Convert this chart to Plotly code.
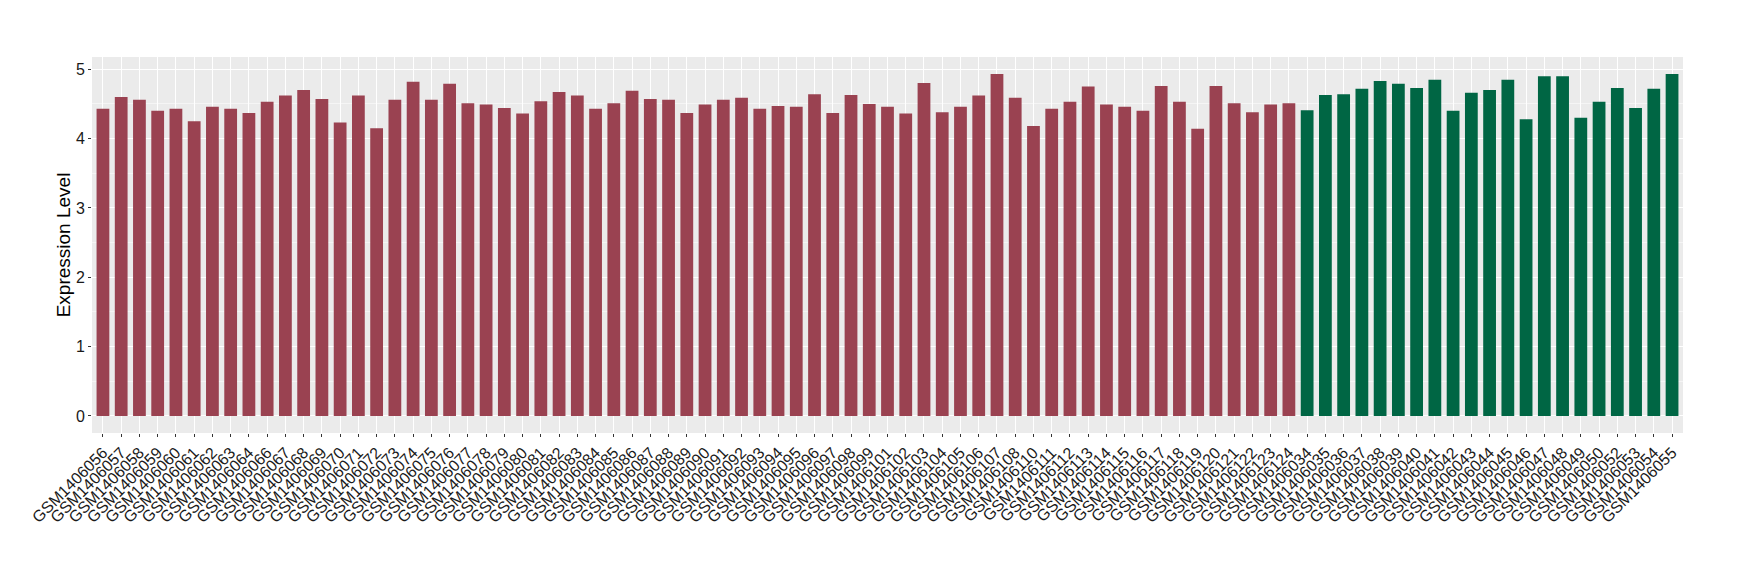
import plotly.graph_objects as go

# amostras do grupo 1 (vermelho) e grupo 2 (verde)
amostras_g1 = [
    "GSM1406056", "GSM1406057", "GSM1406058", "GSM1406059", "GSM1406060", "GSM1406061",
    "GSM1406062", "GSM1406063", "GSM1406064", "GSM1406066", "GSM1406067", "GSM1406068",
    "GSM1406069", "GSM1406070", "GSM1406071", "GSM1406072", "GSM1406073", "GSM1406074",
    "GSM1406075", "GSM1406076", "GSM1406077", "GSM1406078", "GSM1406079", "GSM1406080",
    "GSM1406081", "GSM1406082", "GSM1406083", "GSM1406084", "GSM1406085", "GSM1406086",
    "GSM1406087", "GSM1406088", "GSM1406089", "GSM1406090", "GSM1406091", "GSM1406092",
    "GSM1406093", "GSM1406094", "GSM1406095", "GSM1406096", "GSM1406097", "GSM1406098",
    "GSM1406099", "GSM1406101", "GSM1406102", "GSM1406103", "GSM1406104", "GSM1406105",
    "GSM1406106", "GSM1406107", "GSM1406108", "GSM1406110", "GSM1406111", "GSM1406112",
    "GSM1406113", "GSM1406114", "GSM1406115", "GSM1406116", "GSM1406117", "GSM1406118",
    "GSM1406119", "GSM1406120", "GSM1406121", "GSM1406122", "GSM1406123", "GSM1406124",
]
valores_g1 = [
    4.43, 4.60, 4.56, 4.40, 4.43, 4.25, 4.46, 4.43, 4.37, 4.53, 4.62, 4.70,
    4.57, 4.23, 4.62, 4.15, 4.56, 4.82, 4.56, 4.79, 4.51, 4.49, 4.44, 4.36,
    4.54, 4.67, 4.62, 4.43, 4.51, 4.69, 4.57, 4.56, 4.37, 4.49, 4.56, 4.59,
    4.43, 4.47, 4.46, 4.64, 4.37, 4.63, 4.50, 4.46, 4.36, 4.80, 4.38, 4.46,
    4.62, 4.93, 4.59, 4.18, 4.43, 4.53, 4.75, 4.49, 4.46, 4.40, 4.76, 4.53,
    4.14, 4.76, 4.51, 4.38, 4.49, 4.51,
]

amostras_g2 = [
    "GSM1406034", "GSM1406035", "GSM1406036", "GSM1406037", "GSM1406038", "GSM1406039",
    "GSM1406040", "GSM1406041", "GSM1406042", "GSM1406043", "GSM1406044", "GSM1406045",
    "GSM1406046", "GSM1406047", "GSM1406048", "GSM1406049", "GSM1406050", "GSM1406052",
    "GSM1406053", "GSM1406054", "GSM1406055",
]
valores_g2 = [
    4.41, 4.63, 4.64, 4.72, 4.83, 4.79, 4.73, 4.85, 4.40, 4.66, 4.70, 4.85,
    4.28, 4.90, 4.90, 4.30, 4.53, 4.73, 4.44, 4.72, 4.93,
]

cor_g1 = "#9A4251"
cor_g2 = "#006644"

fig = go.Figure()
fig.add_trace(go.Bar(x=amostras_g1, y=valores_g1, marker_color=cor_g1,
                     marker_line_width=0, showlegend=False))
fig.add_trace(go.Bar(x=amostras_g2, y=valores_g2, marker_color=cor_g2,
                     marker_line_width=0, showlegend=False))

todas = amostras_g1 + amostras_g2
n = len(todas)
ymax = max(valores_g1 + valores_g2)

fig.update_layout(
    width=1740, height=580,
    margin=dict(l=84, r=65, t=49, b=155),
    paper_bgcolor="white",
    plot_bgcolor="#EBEBEB",
    bargap=0.3,
    font=dict(family="Liberation Sans, Arial, sans-serif", color="#1A1A1A"),
    xaxis=dict(
        type="category",
        categoryorder="array",
        categoryarray=todas,
        tickmode="array",
        tickvals=todas,
        ticktext=todas,
        range=[-0.6, n - 0.4],
        tickangle=-45,
        tickfont=dict(size=16, color="#1A1A1A"),
        showgrid=True, gridcolor="white", gridwidth=1.3,
        ticks="outside", ticklen=3, tickcolor="#333333",
        zeroline=False, showline=False, automargin=False,
    ),
    yaxis=dict(
        title=dict(text="Expression Level", font=dict(size=19, color="black"), standoff=0),
        range=[-0.05 * ymax, ymax * 1.05],
        tickvals=[0, 1, 2, 3, 4, 5],
        tickfont=dict(size=16, color="#1A1A1A"),
        showgrid=True, gridcolor="white", gridwidth=1.3,
        minor=dict(tickvals=[0.5, 1.5, 2.5, 3.5, 4.5], showgrid=True,
                   gridcolor="#F5F5F5", gridwidth=0.7, ticks=""),
        ticks="outside", ticklen=3, tickcolor="#333333",
        zeroline=False, showline=False, automargin=False,
    ),
)

fig.write_html("out.html")
